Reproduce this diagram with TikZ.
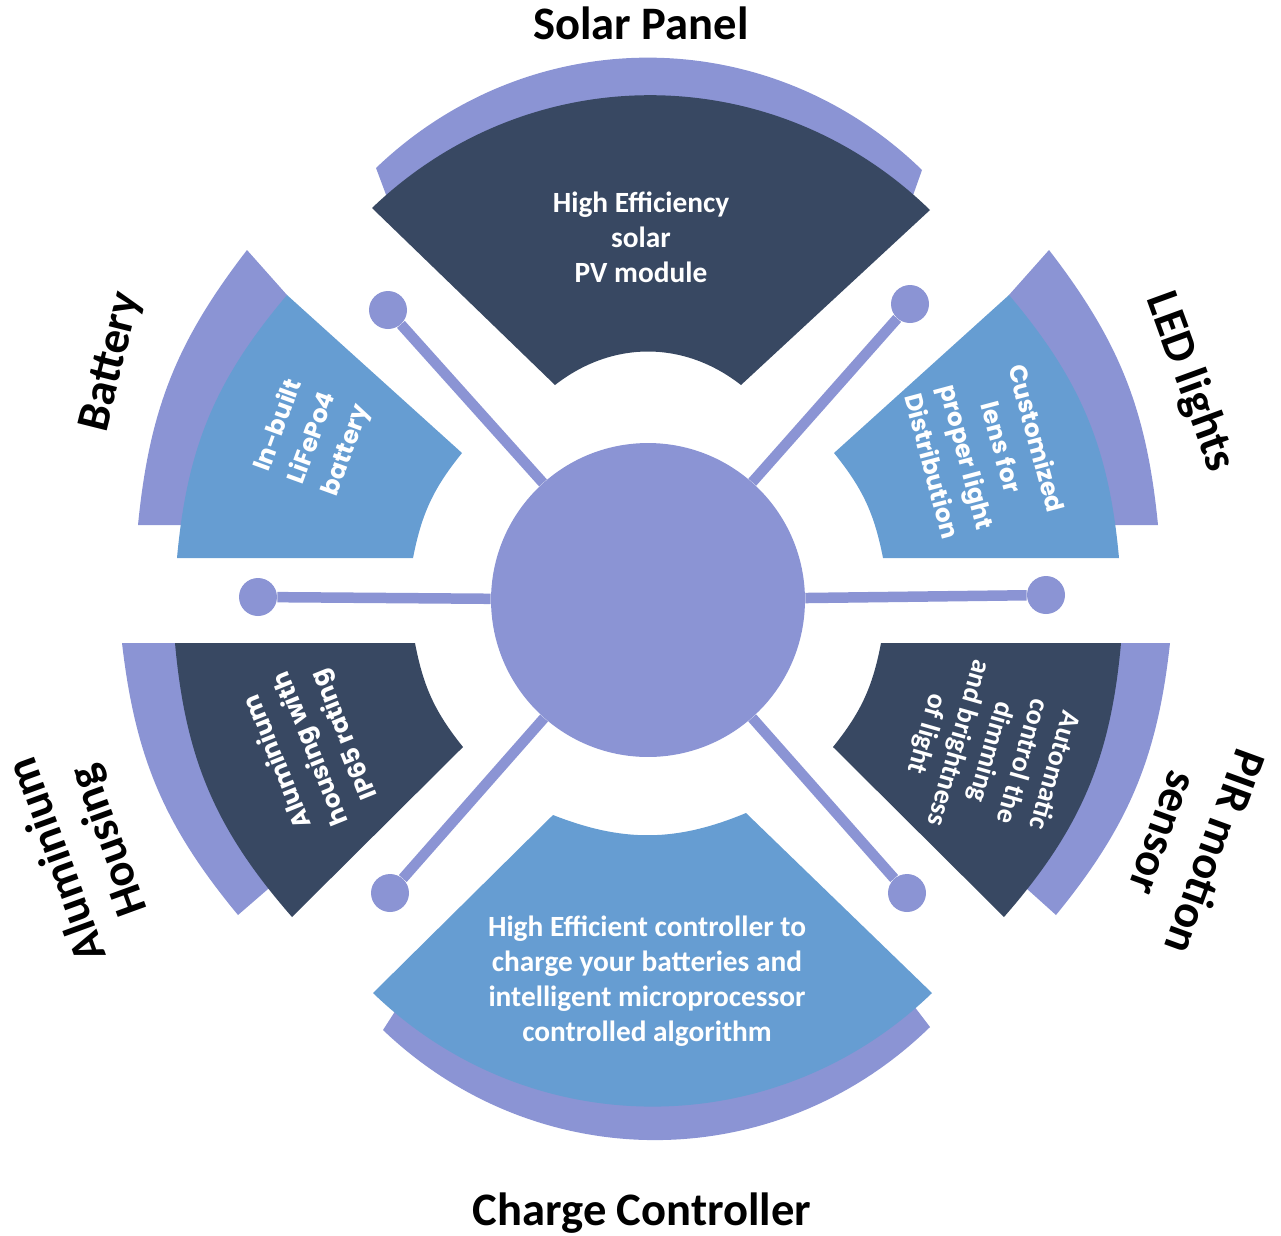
\documentclass[tikz,border=0pt]{standalone}
\usepackage{fontspec}
\setmainfont{Carlito}
\newfontfamily\popfont{Poppins}
\definecolor{bandc}{RGB}{139,148,212}
\definecolor{navy}{RGB}{56,72,98}
\definecolor{skyb}{RGB}{102,157,210}
\begin{document}
\begin{tikzpicture}[
        x=0.02cm, y=-0.02cm,
        hub/.style = {circle, fill=bandc, inner sep=0pt, minimum size=6.28cm},
        dot/.style = {circle, fill=bandc, inner sep=0pt, minimum size=0.76cm},
        link/.style = {draw=bandc, line width=0.21cm},
        title/.style = {font=\bfseries\fontsize{26.5}{31}\selectfont, align=center, inner sep=0pt},
        body/.style = {text=white, font=\bfseries\fontsize{16.7}{19.8}\selectfont, align=center, inner sep=0pt},
        pbody/.style = {text=white, font=\popfont\bfseries\fontsize{14}{20.5}\selectfont, align=center, inner sep=0pt}
    ]
        \useasboundingbox (0,0) rectangle (1281,1235);
        \fill[bandc] (376,168) to[bend left=44] (922,170) -- (900,232) -- (400,232) -- cycle;
        \fill[navy] (372,208) to[bend left=44] (930,210) -- (741,385) to[bend right=38] (555,385) -- cycle;
        \fill[bandc] (930,1027) to[bend left=44] (383,1030) -- (412,985) -- (898,985) -- cycle;
        \fill[skyb] (553,815) to[bend right=22] (746,813) -- (932,993) to[bend left=44] (373,993) -- cycle;
        \fill[bandc] (247,250) to[bend right=16] (138,525) -- (200,525) -- (287,295) -- cycle;
        \fill[skyb] (287,295) -- (462,453) to[bend right=14] (413,558) -- (177,558) to[bend left=17.5] (287,295) -- cycle;
        \fill[bandc] (1049,250) to[bend left=16] (1158,525) -- (1096,525) -- (1009,295) -- cycle;
        \fill[skyb] (1009,295) -- (834,453) to[bend left=14] (883,558) -- (1119,558) to[bend right=17.5] (1009,295) -- cycle;
        \fill[bandc] (122,643) -- (200,643) -- (290,870) -- (238,915) to[bend left=16.5] (122,643) -- cycle;
        \fill[navy] (175,643) -- (415,643) to[bend right=14] (463,747) -- (292,917) to[bend left=18] (175,643) -- cycle;
        \fill[bandc] (1170,643) -- (1096,643) -- (1006,870) -- (1056,915) to[bend right=16.5] (1170,643) -- cycle;
        \fill[navy] (1121,643) -- (881,643) to[bend left=14] (833,747) -- (1004,917) to[bend right=18] (1121,643) -- cycle;

        \node[hub] (hub) at (648,600) {};
        \node[dot] (ul) at (388,310) {};
        \node[dot] (ur) at (910,304) {};
        \node[dot] (ml) at (258,597) {};
        \node[dot] (mr) at (1046,595) {};
        \node[dot] (ll) at (390,893) {};
        \node[dot] (lr) at (907,893) {};
        \foreach \d in {ul,ur,ml,mr,ll,lr}
            \draw[link] (hub) -- (\d);

        \node[title] (sp) at (641,23) {Solar Panel};
        \node[title] (cc) at (642,1213) {Charge Controller};
        \node[title, rotate=76] (bat) at (112,362) {Battery};
        \node[title, rotate=-70] (led) at (1190,382) {LED lights};
        \node[title, rotate=110] (alu) at (84,850) {Aluminium\\Housing};
        \node[title, rotate=-110] (pir) at (1190,843) {PIR motion\\sensor};

        \node[body] (t-sp) at (641,237) {High Efficiency\\solar\\PV module};
        \node[body, font=\bfseries\fontsize{16.7}{20}\selectfont] (t-cc) at (647,981) {High Efficient controller to\\charge your batteries and\\intelligent microprocessor\\controlled algorithm};
        \node[pbody, rotate=70] (t-bat) at (313,438) {In-built\\LiFePo4\\battery};
        \node[pbody, rotate=-75] (t-led) at (985,452) {Customized\\lens for\\proper light\\Distribution};
        \node[pbody, rotate=112] (t-alu) at (312,748) {Aluminium\\housing with\\IP65 rating};
        \node[body, rotate=-106, font=\bfseries\fontsize{16}{18.8}\selectfont] (t-pir) at (990,752) {Automatic\\control the\\dimming\\and brightness\\of light};
    \end{tikzpicture}
\end{document}
